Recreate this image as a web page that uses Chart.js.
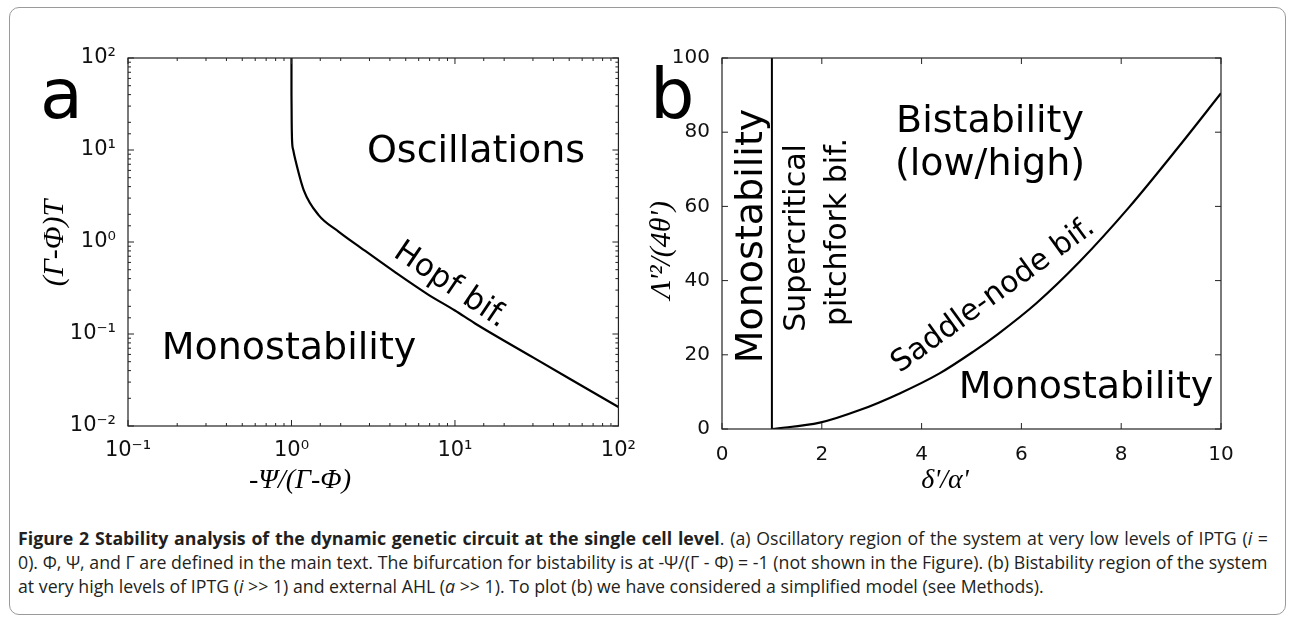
<!DOCTYPE html>
<html>
<head>
<meta charset="utf-8">
<script src="https://cdn.jsdelivr.net/npm/chart.js@4.4.1/dist/chart.umd.min.js"></script>
<style>
  body { margin: 0; background: #fff; width: 1292px; height: 619px; overflow: hidden; position: relative; }
  #frame { position: absolute; left: 9px; top: 7px; width: 1275px; height: 606px; border: 1px solid #9a9a9a; border-radius: 10px; }
  canvas { position: absolute; top: 0; }
  #chartA { left: 0; }
  #chartB { left: 640px; }
  .cap { position: absolute; left: 18px; white-space: nowrap; font-family: "Open Sans", sans-serif; font-size: 15px; line-height: 24px; color: #231f20; }
</style>
</head>
<body>
<div id="frame"></div>
<canvas id="chartA" width="640" height="520"></canvas>
<canvas id="chartB" width="652" height="520"></canvas>
<div class="cap" id="cap1" style="top:526px"><b>Figure 2 Stability analysis of the dynamic genetic circuit at the single cell level</b>. (a) Oscillatory region of the system at very low levels of IPTG (<i>i</i> =</div>
<div class="cap" id="cap2" style="top:550px">0). Φ, Ψ, and Γ are defined in the main text. The bifurcation for bistability is at -Ψ/(Γ - Φ) = -1 (not shown in the Figure). (b) Bistability region of the system</div>
<div class="cap" id="cap3" style="top:574px">at very high levels of IPTG (<i>i</i> &gt;&gt; 1) and external AHL (<i>a</i> &gt;&gt; 1). To plot (b) we have considered a simplified model (see Methods).</div>
<script>
'use strict';
// Panel a: Hopf bifurcation curve (log-log)
var hopfX = [1.0, 1.0, 1.003, 1.008, 1.025, 1.057, 1.188, 1.466, 1.94, 2.67, 4.30, 6.82, 10, 13.2, 30, 50, 100];
var hopfY = [100, 40, 20, 12.8, 10, 7.78, 3.67, 1.96, 1.30, 0.86, 0.47, 0.27, 0.18, 0.131, 0.0557, 0.0328, 0.0161];
var aXDecades = [0.1, 1, 10, 100];
var aXLabels = ['10\u207B\u00B9', '10\u2070', '10\u00B9', '10\u00B2'];
var aYDecades = [0.01, 0.1, 1, 10, 100];
var aYLabels = ['10\u207B\u00B2', '10\u207B\u00B9', '10\u2070', '10\u00B9', '10\u00B2'];

// Panel b: pitchfork line and saddle-node curve
var pitchX = [1, 1];
var pitchY = [0, 100];
var saddleX = [1, 1.96, 2.76, 3.56, 4.36, 5.03, 5.53, 6.3, 7.16, 8.16, 9.16, 10];
var saddleY = [0, 1.7, 5.1, 9.6, 15.0, 20.8, 25.6, 33.9, 45.0, 59.8, 76.2, 90.5];
var bXTicks = [0, 2, 4, 6, 8, 10];
var bYTicks = [0, 20, 40, 60, 80, 100];

var SANS = '"DejaVu Sans", sans-serif';
var SERIF = '"Liberation Serif", "DejaVu Serif", serif';

function toPoints(xs, ys) {
  return xs.map(function (x, i) { return { x: x, y: ys[i] }; });
}

function findLabel(v, values, labels) {
  for (var i = 0; i < values.length; i++) {
    if (Math.abs(v - values[i]) < values[i] * 1e-6) return labels[i];
  }
  return '';
}

// box round the plot with inward tick marks (matlab style)
var boxPlugin = {
  id: 'box',
  afterDraw: function (chart) {
    var ctx = chart.ctx, a = chart.chartArea;
    var xs = chart.scales.x, ys = chart.scales.y;
    var isLog = xs.type === 'logarithmic';
    ctx.save();
    ctx.strokeStyle = '#222';
    ctx.lineWidth = 1.2;
    ctx.strokeRect(a.left, a.top, a.right - a.left, a.bottom - a.top);
    ctx.lineWidth = 1;
    ctx.beginPath();
    xs.ticks.forEach(function (t) {
      var px = xs.getPixelForValue(t.value);
      var len = (!isLog || findLabel(t.value, aXDecades, aXLabels)) ? 6 : 3;
      ctx.moveTo(px, a.bottom); ctx.lineTo(px, a.bottom - len);
      ctx.moveTo(px, a.top); ctx.lineTo(px, a.top + len);
    });
    ys.ticks.forEach(function (t) {
      var py = ys.getPixelForValue(t.value);
      var len = (!isLog || findLabel(t.value, aYDecades, aYLabels)) ? 6 : 3;
      ctx.moveTo(a.left, py); ctx.lineTo(a.left + len, py);
      ctx.moveTo(a.right, py); ctx.lineTo(a.right - len, py);
    });
    ctx.stroke();
    ctx.restore();
  }
};

function textPlugin(items) {
  return {
    id: 'labels',
    afterDraw: function (chart) {
      var ctx = chart.ctx;
      items.forEach(function (it) {
        ctx.save();
        ctx.fillStyle = '#000';
        ctx.font = it.font;
        ctx.textAlign = it.align || 'center';
        ctx.textBaseline = it.baseline || 'alphabetic';
        ctx.translate(it.x, it.y);
        if (it.rot) ctx.rotate(it.rot * Math.PI / 180);
        ctx.fillText(it.text, 0, 0);
        ctx.restore();
      });
    }
  };
}

createPanelA();
createPanelB();
if (document.fonts && document.fonts.ready) {
  document.fonts.ready.then(fitCaption);
} else {
  fitCaption();
}

// Panel a
function createPanelA() {
  var ctx = document.getElementById('chartA');
  var labels = textPlugin([
    { text: 'a', x: 40, y: 118, font: '70px ' + SANS, align: 'left' },
    { text: 'Oscillations', x: 476, y: 162, font: '38px ' + SANS },
    { text: 'Monostability', x: 289, y: 359, font: '38px ' + SANS },
    { text: 'Hopf bif.', x: 446, y: 292, font: '31px ' + SANS, rot: 34 },
    { text: '(\u0393-\u03A6)T', x: 55, y: 243, font: 'italic 30px ' + SERIF, baseline: 'middle', rot: -90 },
    { text: '-\u03A8/(\u0393-\u03A6)', x: 300, y: 488, font: 'italic 28px ' + SERIF }
  ]);
  new Chart(ctx, {
    type: 'scatter',
    data: {
      datasets: [
        {
          data: toPoints(hopfX, hopfY),
          showLine: true,
          borderColor: '#000',
          borderWidth: 2.2,
          pointRadius: 0,
          cubicInterpolationMode: 'monotone'
        }]
    },
    options: {
      responsive: false,
      animation: false,
      layout: { padding: { top: 58, right: 18, left: 0, bottom: 0 } },
      plugins: { legend: { display: false }, tooltip: { enabled: false } },
      scales: {
        x: {
          type: 'logarithmic', min: 0.1, max: 100,
          grid: { display: false }, border: { display: false },
          ticks: {
            autoSkip: false, maxRotation: 0, padding: 4, color: '#111',
            font: { family: SANS, size: 21 },
            callback: function (v) { return findLabel(v, aXDecades, aXLabels); }
          },
          afterFit: function (s) { s.height = 94; }
        },
        y: {
          type: 'logarithmic', min: 0.01, max: 100,
          grid: { display: false }, border: { display: false },
          ticks: {
            autoSkip: false, padding: 4, color: '#111',
            font: { family: SANS, size: 21 },
            callback: function (v) { return findLabel(v, aYDecades, aYLabels); }
          },
          afterFit: function (s) { s.width = 128; }
        }
      }
    },
    plugins: [boxPlugin, labels]
  });
}

// Panel b
function createPanelB() {
  var ctx = document.getElementById('chartB');
  var labels = textPlugin([
    { text: 'b', x: 10, y: 118, font: '70px ' + SANS, align: 'left' },
    { text: 'Monostability', x: 122, y: 236, font: '38px ' + SANS, rot: -90 },
    { text: 'Supercritical', x: 165, y: 238, font: '30px ' + SANS, rot: -90 },
    { text: 'pitchfork bif.', x: 206, y: 232, font: '30px ' + SANS, rot: -90 },
    { text: 'Bistability', x: 350, y: 132, font: '38px ' + SANS },
    { text: '(low/high)', x: 350, y: 175, font: '38px ' + SANS },
    { text: 'Saddle-node bif.', x: 358, y: 302, font: '30px ' + SANS, rot: -36 },
    { text: 'Monostability', x: 446, y: 398, font: '38px ' + SANS },
    { text: '\u039B\'\u00B2/(4\u03B8\')', x: 22, y: 250, font: 'italic 30px ' + SERIF, baseline: 'middle', rot: -90 },
    { text: '\u03B4\'/\u03B1\'', x: 305, y: 488, font: 'italic 28px ' + SERIF }
  ]);
  new Chart(ctx, {
    type: 'scatter',
    data: {
      datasets: [
        {
          data: toPoints(pitchX, pitchY),
          showLine: true,
          borderColor: '#000',
          borderWidth: 2,
          pointRadius: 0
        },
        {
          data: toPoints(saddleX, saddleY),
          showLine: true,
          borderColor: '#000',
          borderWidth: 2.2,
          pointRadius: 0,
          cubicInterpolationMode: 'monotone'
        }]
    },
    options: {
      responsive: false,
      animation: false,
      layout: { padding: { top: 58, right: 71, left: 0, bottom: 0 } },
      plugins: { legend: { display: false }, tooltip: { enabled: false } },
      scales: {
        x: {
          type: 'linear', min: 0, max: 10,
          grid: { display: false }, border: { display: false },
          afterBuildTicks: function (s) { s.ticks = bXTicks.map(function (v) { return { value: v }; }); },
          ticks: {
            maxRotation: 0, padding: 6, color: '#111',
            font: { family: SANS, size: 20 }
          },
          afterFit: function (s) { s.height = 91; }
        },
        y: {
          type: 'linear', min: 0, max: 100,
          grid: { display: false }, border: { display: false },
          afterBuildTicks: function (s) { s.ticks = bYTicks.map(function (v) { return { value: v }; }); },
          ticks: {
            padding: 4, color: '#111',
            font: { family: SANS, size: 20 }
          },
          afterFit: function (s) { s.width = 82; }
        }
      }
    },
    plugins: [boxPlugin, labels]
  });
}

// size the caption so line 2 fills the box, justify line 1 with word spacing
function fitCaption() {
  var c1 = document.getElementById('cap1');
  var c2 = document.getElementById('cap2');
  var c3 = document.getElementById('cap3');
  var size = 15 * 1250 / c2.getBoundingClientRect().width;
  [c1, c2, c3].forEach(function (el) { el.style.fontSize = size + 'px'; });
  var w = c1.getBoundingClientRect().width;
  var spaces = c1.textContent.split(' ').length - 1;
  c1.style.wordSpacing = ((1250 - w) / spaces) + 'px';
}
</script>
</body>
</html>
